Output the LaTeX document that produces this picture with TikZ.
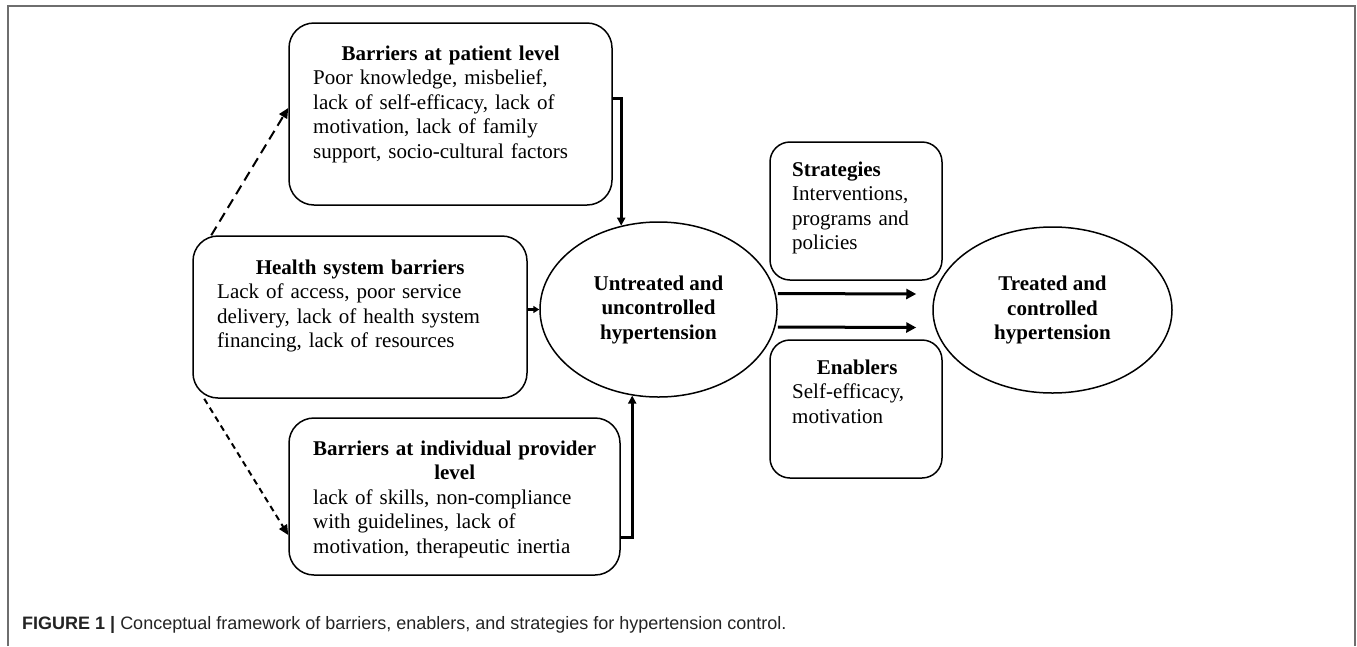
\documentclass[tikz,border=0pt]{standalone}
\usepackage{fontspec}
\setmainfont{Liberation Serif}
\setsansfont{Liberation Sans}
\usetikzlibrary{shapes.geometric,arrows.meta}
\definecolor{framegray}{RGB}{110,110,110}
\definecolor{captext}{RGB}{35,35,35}

\begin{document}
\begin{tikzpicture}[
x=1pt, y=-1pt,
barrier/.style={rectangle, rounded corners=25pt, draw=black, line width=1.5pt},
factor/.style={rectangle, rounded corners=20pt, draw=black, line width=1.5pt, minimum width=172pt, minimum height=138pt},
outcome/.style={ellipse, draw=black, line width=1.5pt, inner sep=0pt, align=center, font=\bfseries\fontsize{21}{24.5}\selectfont},
boxtext/.style={anchor=base west, inner sep=0pt, align=left, font=\fontsize{21}{24.5}\selectfont},
mainarrow/.style={-{Triangle[length=10pt, width=10pt]}, line width=3pt},
feedarrow/.style={-{Triangle[length=8pt, width=8pt]}, line width=3pt},
dashlong/.style={-{Triangle[length=10pt, width=9pt]}, line width=2pt, dash pattern=on 10pt off 6pt},
dashshort/.style={-{Triangle[length=10pt, width=9pt]}, line width=2pt, dash pattern=on 6pt off 4.5pt},
]
\useasboundingbox (0,0) rectangle (1357,646);
\draw[framegray, line width=2pt] (8,646) -- (8,6) -- (1355,6) -- (1355,646);

\node[barrier, minimum width=323pt, minimum height=182pt] (patient) at (450.5,114) {};
\node[boxtext, text width=275pt] (patienttxt) at (313,60)
  {{\centering\bfseries Barriers at patient level\par}Poor knowledge, misbelief,\\lack of self-efficacy, lack of\\motivation, lack of family\\support, socio-cultural factors};

\node[barrier, minimum width=334pt, minimum height=162pt] (health) at (360,317) {};
\node[boxtext, text width=286pt] (healthtxt) at (217,274)
  {{\centering\bfseries Health system barriers\par}Lack of access, poor service\\delivery, lack of health system\\financing, lack of resources};

\node[barrier, minimum width=331pt, minimum height=157pt] (provider) at (454.5,496.5) {};
\node[boxtext, text width=283pt] (providertxt) at (313,455)
  {{\centering\bfseries\makebox[\linewidth]{Barriers at individual provider}\\level\par}lack of skills, non-compliance\\with guidelines, lack of\\motivation, therapeutic inertia};

\node[outcome, minimum width=237pt, minimum height=175pt] (untreated) at (658.5,309.5) {Untreated and\\uncontrolled\\hypertension};

\node[factor] (strategies) at (856,211) {};
\node[boxtext, text width=130pt] (strategiestxt) at (792,176)
  {\textbf{Strategies}\\Interventions,\\programs and\\policies};

\node[factor] (enablers) at (856,409) {};
\node[boxtext, text width=130pt] (enablerstxt) at (792,374)
  {{\centering\bfseries Enablers\par}Self-efficacy,\\motivation};

\node[outcome, minimum width=239pt, minimum height=166pt] (treated) at (1052.5,310) {Treated and\\controlled\\hypertension};

\draw[feedarrow] ([yshift=16pt]patient.east) -| (untreated.114);
\draw[feedarrow] ([yshift=-40.5pt]provider.east) -| (untreated.253);
\draw[-{Triangle[length=6pt, width=7pt]}, line width=3pt] (health.east |- untreated.west) -- (untreated.west);
\draw[mainarrow] ([yshift=16pt]untreated.east) -- ([yshift=16pt, xshift=-16pt]treated.west);
\draw[mainarrow] ([yshift=-17.5pt]untreated.east) -- ([yshift=-17.5pt, xshift=-16pt]treated.west);
\draw[dashlong] ([xshift=19pt]health.north west) -- ([yshift=6pt]patient.west);
\draw[dashshort] ([xshift=12pt]health.south west) -- ([yshift=-38.5pt]provider.west);

\node[anchor=base west, inner sep=0pt, text=captext, font=\sffamily\fontsize{18}{20}\selectfont] (caption) at (22,629)
  {\textbf{FIGURE 1 |} Conceptual framework of barriers, enablers, and strategies for hypertension control.};
\end{tikzpicture}
\end{document}
